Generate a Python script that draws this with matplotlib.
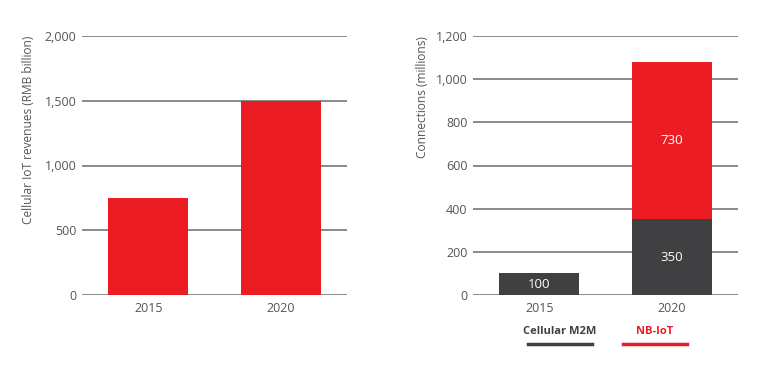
import matplotlib.pyplot as plt
from matplotlib.lines import Line2D

# data
years = ["2015", "2020"]
revenues = [750, 1500]
m2m = [100, 350]
nbiot = [0, 730]
rev_ticks = [0, 500, 1000, 1500, 2000]
conn_ticks = [0, 200, 400, 600, 800, 1000, 1200]

red = "#ec1c24"
dark = "#404042"
grey = "#555555"

plt.rcParams['font.family'] = ['Open Sans', 'DejaVu Sans']

fig = plt.figure(figsize=(7.65, 3.66), dpi=100)
ax1 = fig.add_axes([82/765, 1-295/366, 265/765, 259/366])
ax2 = fig.add_axes([473/765, 1-295/366, 265/765, 259/366])

x = range(len(years))
w = 0.606

ax1.bar(x, revenues, width=w, color=red, zorder=3)
ax1.set_ylim(0, 2000)
ax1.set_yticks(rev_ticks)
ax1.set_yticklabels([f"{t:,}" for t in rev_ticks])
ax1.set_ylabel("Cellular IoT revenues (RMB billion)", fontsize=8.6, color=grey,
               labelpad=7, loc='top')

b1 = ax2.bar(x, m2m, width=w, color=dark, zorder=3)
b2 = ax2.bar(x, nbiot, width=w, bottom=m2m, color=red, zorder=3)
ax2.bar_label(b1, labels=[str(v) for v in m2m], label_type='center', color='white', fontsize=9.5)
ax2.bar_label(b2, labels=["" if v == 0 else str(v) for v in nbiot], label_type='center', color='white', fontsize=9.5)
ax2.set_ylim(0, 1200)
ax2.set_yticks(conn_ticks)
ax2.set_yticklabels([f"{t:,}" for t in conn_ticks])
ax2.set_ylabel("Connections (millions)", fontsize=8.6, color=grey, labelpad=5, loc='top')

for ax in (ax1, ax2):
    ax.set_xlim(-0.5, 1.5)
    ax.set_xticks(list(x))
    ax.set_xticklabels(years)
    for s in ax.spines.values():
        s.set_visible(False)
    ax.grid(axis='y', color='#6b6b6b', linewidth=1.1, zorder=0)
    ax.tick_params(length=0, labelsize=9, labelcolor=grey)
    ax.tick_params(axis='y', pad=4)
    ax.tick_params(axis='x', pad=5)

# legend
fig.text(560/765, 1-332/366, "Cellular M2M", ha='center', va='center',
         fontsize=8, fontweight='bold', color=dark)
fig.text(655/765, 1-332/366, "NB-IoT", ha='center', va='center',
         fontsize=8, fontweight='bold', color=red)
fig.add_artist(Line2D([528/765, 592/765], [1-344/366]*2, color=dark, linewidth=2.5))
fig.add_artist(Line2D([623/765, 687/765], [1-344/366]*2, color=red, linewidth=2.5))

fig.savefig("out.png", dpi=100)
